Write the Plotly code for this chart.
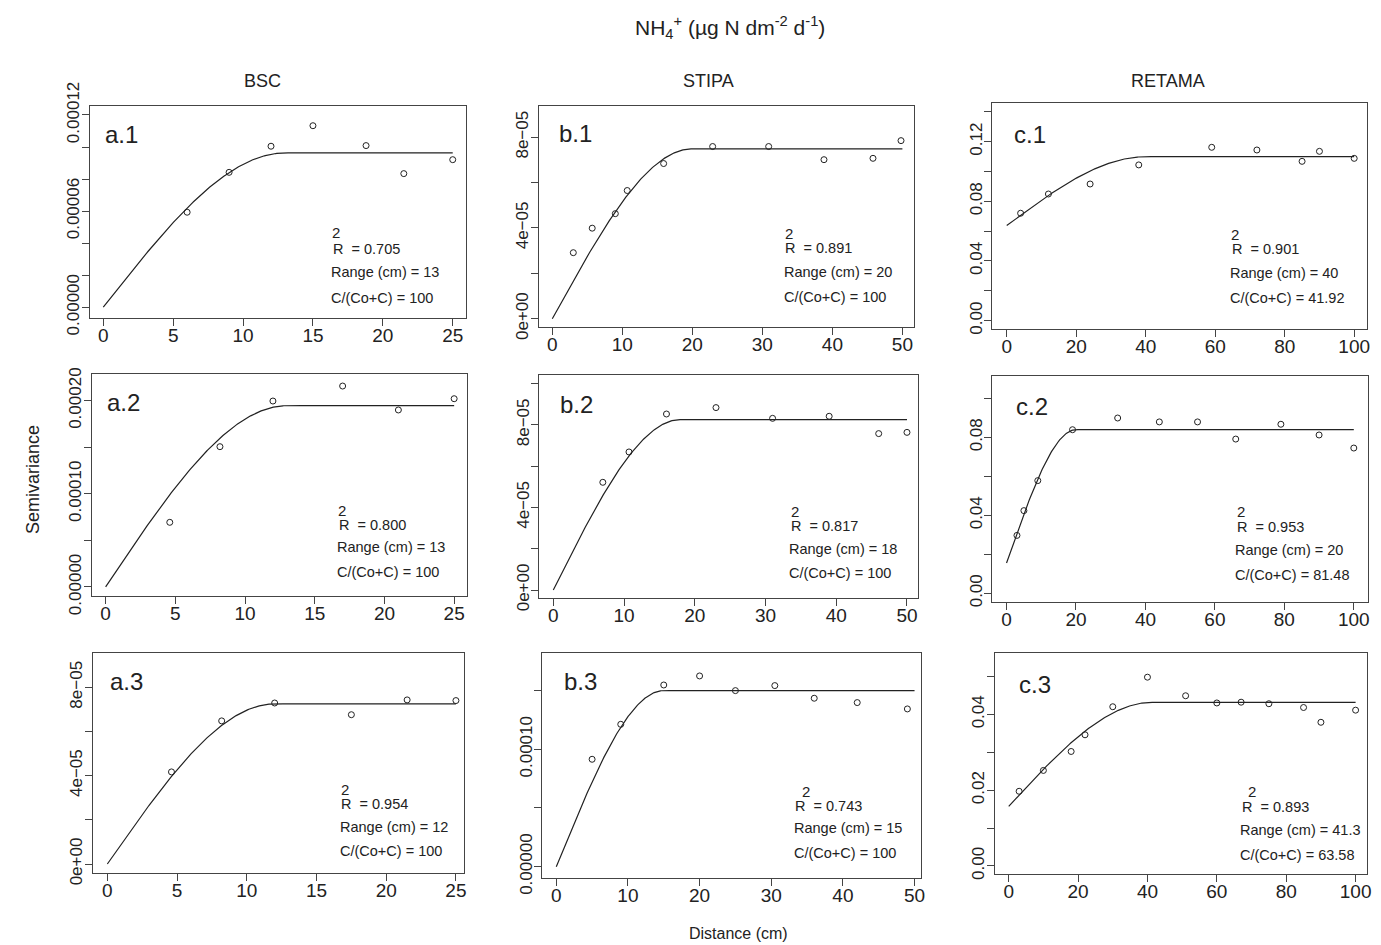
import numpy as np
import plotly.graph_objects as go

W, H = 1381, 945

# ---------------- data ----------------
# BSC
a1_dist = [6, 9, 12, 15, 18.8, 21.5, 25]
a1_gamma = [5.93e-5, 8.42e-5, 1.005e-4, 1.133e-4, 1.009e-4, 8.34e-5, 9.21e-5]
a2_dist = [4.6, 8.2, 12, 17, 21, 25]
a2_gamma = [6.94e-5, 1.506e-4, 1.996e-4, 2.157e-4, 1.90e-4, 2.021e-4]
a3_dist = [4.6, 8.2, 12, 17.5, 21.5, 25]
a3_gamma = [4.17e-5, 6.48e-5, 7.29e-5, 6.76e-5, 7.43e-5, 7.40e-5]
# STIPA
b1_dist = [3, 5.7, 9, 10.7, 15.9, 22.9, 30.9, 38.8, 45.8, 49.8]
b1_gamma = [2.91e-5, 3.99e-5, 4.63e-5, 5.65e-5, 6.84e-5, 7.59e-5, 7.59e-5, 7.01e-5, 7.07e-5, 7.85e-5]
b2_dist = [7, 10.7, 16, 23, 31, 39, 46, 50]
b2_gamma = [5.22e-5, 6.69e-5, 8.53e-5, 8.84e-5, 8.32e-5, 8.42e-5, 7.58e-5, 7.64e-5]
b3_dist = [5, 9, 15, 20, 25, 30.5, 36, 42, 49]
b3_gamma = [9.15e-5, 1.213e-4, 1.548e-4, 1.625e-4, 1.50e-4, 1.543e-4, 1.435e-4, 1.398e-4, 1.344e-4]
# RETAMA
c1_dist = [4, 12, 24, 38, 59, 72, 85, 90, 100]
c1_gamma = [0.0720, 0.0849, 0.0916, 0.1044, 0.1162, 0.1144, 0.1068, 0.1135, 0.1088]
c2_dist = [3, 5, 9, 19, 32, 44, 55, 66, 79, 90, 100]
c2_gamma = [0.0297, 0.0424, 0.0578, 0.0839, 0.0899, 0.0879, 0.0879, 0.0791, 0.0867, 0.0812, 0.0745]
c3_dist = [3, 10, 18, 22, 30, 40, 51, 60, 67, 75, 85, 90, 100]
c3_gamma = [0.0197, 0.0252, 0.0302, 0.0346, 0.0420, 0.0498, 0.0449, 0.0430, 0.0432,
            0.0428, 0.0418, 0.0379, 0.0411]

panel_ids = ["a.1", "b.1", "c.1", "a.2", "b.2", "c.2", "a.3", "b.3", "c.3"]
dists = [a1_dist, b1_dist, c1_dist, a2_dist, b2_dist, c2_dist, a3_dist, b3_dist, c3_dist]
gammas = [a1_gamma, b1_gamma, c1_gamma, a2_gamma, b2_gamma, c2_gamma, a3_gamma, b3_gamma, c3_gamma]

# spherical model parameters (nugget, sill, range) as shown
model_nugget = [0, 0, 0.0638, 0, 0, 0.01554, 0, 0, 0.01572]
model_sill = [9.63e-5, 7.49e-5, 0.1099, 1.946e-4, 8.26e-5, 0.0839, 7.25e-5, 1.50e-4, 0.04316]
model_range = [13, 20, 40, 13, 18, 20, 12, 15, 41.3]
model_maxdist = [25, 50, 100, 25, 50, 100, 25, 50, 100]

r2_text = ["0.705", "0.891", "0.901", "0.800", "0.817", "0.953", "0.954", "0.743", "0.893"]
range_text = ["13", "20", "40", "13", "18", "20", "12", "15", "41.3"]
ratio_text = ["100", "100", "41.92", "100", "100", "81.48", "100", "100", "63.58"]

column_titles = ["BSC", "STIPA", "RETAMA"]

x_ticks_a = [0, 5, 10, 15, 20, 25]
x_ticks_b = [0, 10, 20, 30, 40, 50]
x_ticks_c = [0, 20, 40, 60, 80, 100]

# labelled y ticks
y_major_vals = [
    [0, 6e-5, 1.2e-4],
    [0, 4e-5, 8e-5],
    [0, 0.04, 0.08, 0.12],
    [0, 1e-4, 2e-4],
    [0, 4e-5, 8e-5],
    [0, 0.04, 0.08],
    [0, 4e-5, 8e-5],
    [0, 1e-4],
    [0, 0.02, 0.04],
]
y_major_text = [
    ["0.00000", "0.00006", "0.00012"],
    ["0e+00", "4e\u221205", "8e\u221205"],
    ["0.00", "0.04", "0.08", "0.12"],
    ["0.00000", "0.00010", "0.00020"],
    ["0e+00", "4e\u221205", "8e\u221205"],
    ["0.00", "0.04", "0.08"],
    ["0e+00", "4e\u221205", "8e\u221205"],
    ["0.00000", "0.00010"],
    ["0.00", "0.02", "0.04"],
]
# unlabelled y ticks
y_minor_vals = [
    [2e-5, 4e-5, 8e-5, 1e-4],
    [2e-5, 6e-5],
    [0.02, 0.06, 0.10, 0.14],
    [5e-5, 1.5e-4],
    [2e-5, 6e-5, 1e-4],
    [0.02, 0.06, 0.10],
    [2e-5, 6e-5],
    [5e-5, 1.5e-4],
    [0.01, 0.03, 0.05],
]

# ---------------- layout geometry (pixels) ----------------
# box: left, right, top, bottom
boxes = [
    (90, 466, 106, 318.3), (539, 914.3, 105.7, 327.3), (992.3, 1366.7, 103.3, 329),
    (91.7, 466.7, 374.3, 596), (539.3, 918.3, 375, 597.7), (992.3, 1367.7, 375.7, 601.7),
    (92.7, 464.3, 653.3, 873.3), (542.3, 921, 653.3, 877.7), (995, 1366.7, 653.3, 874.3),
]
x_ranges = [(-0.95, 25.95), (-1.9, 51.7), (-4.15, 103.6),
            (-1.0, 25.9), (-1.98, 51.6), (-4.1, 104.0),
            (-1.05, 25.6), (-1.95, 50.9), (-3.95, 103.2)]
y_ranges = [(-0.69e-5, 1.256e-4), (-0.38e-5, 9.39e-5), (-0.0056, 0.1457),
            (-0.97e-5, 2.283e-4), (-0.373e-5, 10.42e-5), (-0.0043, 0.1116),
            (-0.42e-5, 9.54e-5), (-0.94e-5, 1.818e-4), (-0.0022, 0.0561)]
label_pos = [(103, 135), (556.7, 133.3), (1011.7, 135),
             (105, 402.7), (558.3, 404.3), (1014, 406.7),
             (108.3, 681.7), (561.7, 681.7), (1017.3, 684.3)]
# (sup "2" center x, y), (R line left, y), (Range left, y), (ratio left, y)
stat_pos = [
    ((336, 232.7), (331, 249), (328.7, 271.7), (328.7, 297.7)),
    ((789, 233.3), (782.7, 248.3), (781.7, 271.7), (781.7, 296.7)),
    ((1235.3, 234), (1230, 249.3), (1227.7, 272.7), (1227.7, 298.3)),
    ((342.3, 510.7), (336.7, 525), (335, 547.3), (335, 571.7)),
    ((794.7, 511), (789, 526), (787.3, 548.7), (787.3, 573.3)),
    ((1241, 511.7), (1235, 526.7), (1233.3, 550), (1233.3, 575)),
    ((345.3, 789.3), (339, 804.3), (338.3, 826.7), (338.3, 850.7)),
    ((806, 791), (792.7, 805.7), (791.7, 828.3), (791.7, 853.3)),
    ((1252, 791.7), (1240, 806.7), (1238.3, 830), (1238.3, 855)),
]

FONT = "Liberation Sans, Arial, Helvetica, sans-serif"
INK = "#222222"
AX = "#444444"
STAT_SIZE = 14.5


def px(x):
    return x / W


def py(y):
    return 1 - y / H


def spherical(h, c0, sill, a):
    h = np.asarray(h, dtype=float)
    c = sill - c0
    g = c0 + c * (1.5 * h / a - 0.5 * (h / a) ** 3)
    return np.where(h < a, g, sill)


fig = go.Figure()
annotations = []
layout_axes = {}

for i in range(9):
    n = i + 1
    xa = "x" if n == 1 else f"x{n}"
    ya = "y" if n == 1 else f"y{n}"
    hh = np.linspace(0, model_maxdist[i], 400)
    fig.add_trace(go.Scatter(
        x=hh, y=spherical(hh, model_nugget[i], model_sill[i], model_range[i]),
        mode="lines", line=dict(color=INK, width=1.2), xaxis=xa, yaxis=ya,
        showlegend=False, hoverinfo="skip"))
    fig.add_trace(go.Scatter(
        x=dists[i], y=gammas[i], mode="markers",
        marker=dict(symbol="circle-open", size=6, color=INK, line=dict(width=1, color=INK)),
        xaxis=xa, yaxis=ya, showlegend=False))

    l, r, t, b = boxes[i]
    col = i % 3
    xt = [x_ticks_a, x_ticks_b, x_ticks_c][col]
    xkey = "xaxis" if n == 1 else f"xaxis{n}"
    ykey = "yaxis" if n == 1 else f"yaxis{n}"
    layout_axes[xkey] = dict(
        domain=[px(l), px(r)], anchor=ya, range=list(x_ranges[i]), automargin=False,
        tickmode="array", tickvals=xt, ticktext=[str(v) for v in xt],
        showline=True, mirror=True, linecolor=AX, linewidth=1,
        ticks="outside", ticklen=7, tickcolor=AX, tickwidth=1,
        showgrid=False, zeroline=False, ticklabelstandoff=-7,
        tickfont=dict(family=FONT, size=19, color=INK))
    layout_axes[ykey] = dict(
        domain=[py(b), py(t)], anchor=xa, range=list(y_ranges[i]), automargin=False,
        tickmode="array", tickvals=y_major_vals[i], ticktext=y_major_text[i],
        minor=dict(tickmode="array", tickvals=y_minor_vals[i], ticks="outside",
                   ticklen=7, tickcolor=AX, tickwidth=1, showgrid=False),
        showline=True, mirror=True, linecolor=AX, linewidth=1,
        ticks="outside", ticklen=7, tickcolor=AX, tickwidth=1,
        showgrid=False, zeroline=False, tickangle=-90, ticklabelstandoff=-4,
        tickfont=dict(family=FONT, size=17, color=INK))

    lx, ly = label_pos[i]
    annotations.append(dict(text=panel_ids[i], x=px(lx), y=py(ly), xref="paper", yref="paper",
                            xanchor="left", yanchor="middle", showarrow=False,
                            font=dict(family=FONT, size=24, color=INK)))
    (sx, sy), (rx, ry), (gx, gy), (cx, cy) = stat_pos[i]
    annotations.append(dict(text="2", x=px(sx), y=py(sy), xref="paper", yref="paper",
                            xanchor="center", yanchor="middle", showarrow=False,
                            font=dict(family=FONT, size=15, color=INK)))
    annotations.append(dict(text="R\u00a0\u00a0= " + r2_text[i], x=px(rx), y=py(ry),
                            xref="paper", yref="paper", xanchor="left", yanchor="middle",
                            showarrow=False, font=dict(family=FONT, size=STAT_SIZE, color=INK)))
    annotations.append(dict(text="Range (cm) = " + range_text[i], x=px(gx), y=py(gy),
                            xref="paper", yref="paper", xanchor="left", yanchor="middle",
                            showarrow=False, font=dict(family=FONT, size=STAT_SIZE, color=INK)))
    annotations.append(dict(text="C/(Co+C) = " + ratio_text[i], x=px(cx), y=py(cy),
                            xref="paper", yref="paper", xanchor="left", yanchor="middle",
                            showarrow=False, font=dict(family=FONT, size=STAT_SIZE, color=INK)))

for title, cx in zip(column_titles, [262, 708, 1168]):
    annotations.append(dict(text=title, x=px(cx), y=py(81), xref="paper", yref="paper",
                            xanchor="center", yanchor="middle", showarrow=False,
                            font=dict(family=FONT, size=18, color=INK)))

annotations.append(dict(text="NH<sub>4</sub><sup>+</sup> (\u00b5g N dm<sup>-2</sup> d<sup>-1</sup>)",
                        x=px(730), y=py(27), xref="paper", yref="paper",
                        xanchor="center", yanchor="middle", showarrow=False,
                        font=dict(family=FONT, size=21, color=INK)))
annotations.append(dict(text="Semivariance", x=px(33), y=py(480), xref="paper", yref="paper",
                        xanchor="center", yanchor="middle", showarrow=False, textangle=-90,
                        font=dict(family=FONT, size=18, color=INK)))
annotations.append(dict(text="Distance (cm)", x=px(738), y=py(933), xref="paper", yref="paper",
                        xanchor="center", yanchor="middle", showarrow=False,
                        font=dict(family=FONT, size=16, color=INK)))

fig.update_layout(
    template="none",
    width=W, height=H, margin=dict(l=0, r=0, t=0, b=0, pad=0), autosize=False,
    paper_bgcolor="white", plot_bgcolor="white",
    annotations=annotations, showlegend=False, **layout_axes)

fig.write_html("out.html",
               config={"displayModeBar": False},
               post_script="document.body.style.margin='0px';"
                           "document.body.style.overflow='hidden';")
